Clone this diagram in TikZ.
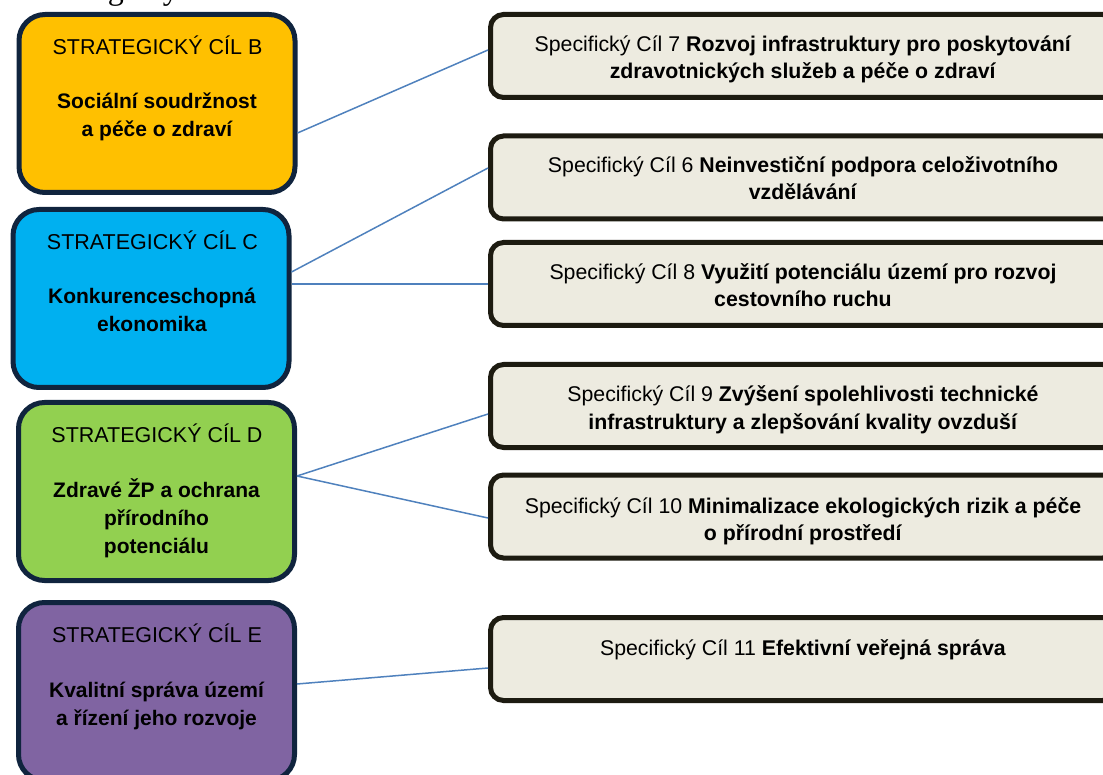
\documentclass[tikz,border=0pt]{standalone}
\usepackage{fontspec}
\setmainfont{Liberation Sans}
\newfontfamily\serifx{Liberation Serif}
\definecolor{navyb}{HTML}{10243E}
\definecolor{darkb}{HTML}{1D1B11}
\definecolor{beige}{HTML}{EDEBE0}
\definecolor{yelb}{HTML}{FFC000}
\definecolor{cyanb}{HTML}{00B0F0}
\definecolor{greenb}{HTML}{92D050}
\definecolor{purpb}{HTML}{8064A2}
\definecolor{linkb}{HTML}{4F81BD}
\begin{document}
\begin{tikzpicture}[x=1pt,y=-1pt,
  sbox/.style={draw=navyb, line width=5pt, rounded corners=26pt, inner sep=0pt, minimum width=276pt, minimum height=178pt},
  rbox/.style={draw=darkb, fill=beige, line width=5pt, rounded corners=13pt, inner sep=0pt, minimum width=625pt, minimum height=83pt},
  ttl/.style={anchor=base, inner sep=0pt, font=\fontsize{21.5}{27}\selectfont},
  bld/.style={anchor=base, inner sep=0pt, font=\fontsize{21}{28}\selectfont\bfseries},
  rtxt/.style={anchor=base, inner sep=0pt, font=\fontsize{21.3}{27}\selectfont},
  conn/.style={draw=linkb, line width=1.5pt}]
\useasboundingbox (0,0) rectangle (1103,775);
\clip (0,0) rectangle (1103,775);

\node[anchor=base west, inner sep=0pt, font=\serifx\fontsize{32}{32}\selectfont] (head) at (33,-0.8) {Strategický};

% left boxes
\node[sbox, fill=yelb]   (B) at (157,103.5) {};
\node[sbox, fill=cyanb]  (C) at (151,298.5) {};
\node[sbox, fill=greenb] (D) at (156.5,491.5) {};
\node[sbox, fill=purpb]  (E) at (156.5,691.5) {};

\node[ttl] (Bt) at (157.5,54.5) {STRATEGICKÝ CÍL B};
\node[bld] (B1) at (157,109) {Sociální soudržnost};
\node[bld] (B2) at (157,137) {a péče o zdraví};

\node[ttl] (Ct) at (152.5,249.5) {STRATEGICKÝ CÍL C};
\node[bld] (C1) at (152,304) {Konkurenceschopná};
\node[bld] (C2) at (152,332) {ekonomika};

\node[ttl] (Dt) at (157,442.5) {STRATEGICKÝ CÍL D};
\node[bld] (D1) at (156.5,497) {Zdravé ŽP a ochrana};
\node[bld] (D2) at (156.5,525) {přírodního};
\node[bld] (D3) at (156.5,553) {potenciálu};

\node[ttl] (Et) at (157,642.5) {STRATEGICKÝ CÍL E};
\node[bld] (E1) at (156.5,697) {Kvalitní správa území};
\node[bld] (E2) at (156.5,725) {a řízení jeho rozvoje};

% right boxes
\node[rbox] (S7)  at (803,56) {};
\node[rbox] (S6)  at (803,177.5) {};
\node[rbox] (S8)  at (803,284) {};
\node[rbox] (S9)  at (803,406) {};
\node[rbox] (S10) at (803,516.5) {};
\node[rbox] (S11) at (803,659) {};

\node[rtxt] (T7a) at (803,52) {Specifický Cíl 7 \textbf{Rozvoj infrastruktury pro poskytování}};
\node[rtxt] (T7b) at (803,79) {\textbf{zdravotnických služeb a péče o zdraví}};
\node[rtxt] (T6a) at (803,173) {Specifický Cíl 6 \textbf{Neinvestiční podpora celoživotního}};
\node[rtxt] (T6b) at (803,200) {\textbf{vzdělávání}};
\node[rtxt] (T8a) at (803,280) {Specifický Cíl 8 \textbf{Využití potenciálu území pro rozvoj}};
\node[rtxt] (T8b) at (803,307) {\textbf{cestovního ruchu}};
\node[rtxt] (T9a) at (803,402) {Specifický Cíl 9 \textbf{Zvýšení spolehlivosti technické}};
\node[rtxt] (T9b) at (803,429) {\textbf{infrastruktury a zlepšování kvality ovzduší}};
\node[rtxt] (T10a) at (803,513) {Specifický Cíl 10 \textbf{Minimalizace ekologických rizik a péče}};
\node[rtxt] (T10b) at (803,540) {\textbf{o přírodní prostředí}};
\node[rtxt] (T11a) at (803,655) {Specifický Cíl 11 \textbf{Efektivní veřejná správa}};

% connectors
\draw[conn] ([yshift=-29.5pt]B.east) -- ([yshift=6pt]S7.west);
\draw[conn] ([yshift=26.5pt]C.east) -- ([yshift=9.5pt]S6.west);
\draw[conn] (C.east |- S8.west) -- (S8.west);
\draw[conn] ([yshift=15.5pt]D.east) -- ([yshift=-8pt]S9.west);
\draw[conn] ([yshift=15.5pt]D.east) -- ([yshift=-1.5pt]S10.west);
\draw[conn] ([yshift=7.5pt]E.east) -- ([yshift=-9pt]S11.west);
\end{tikzpicture}
\end{document}
